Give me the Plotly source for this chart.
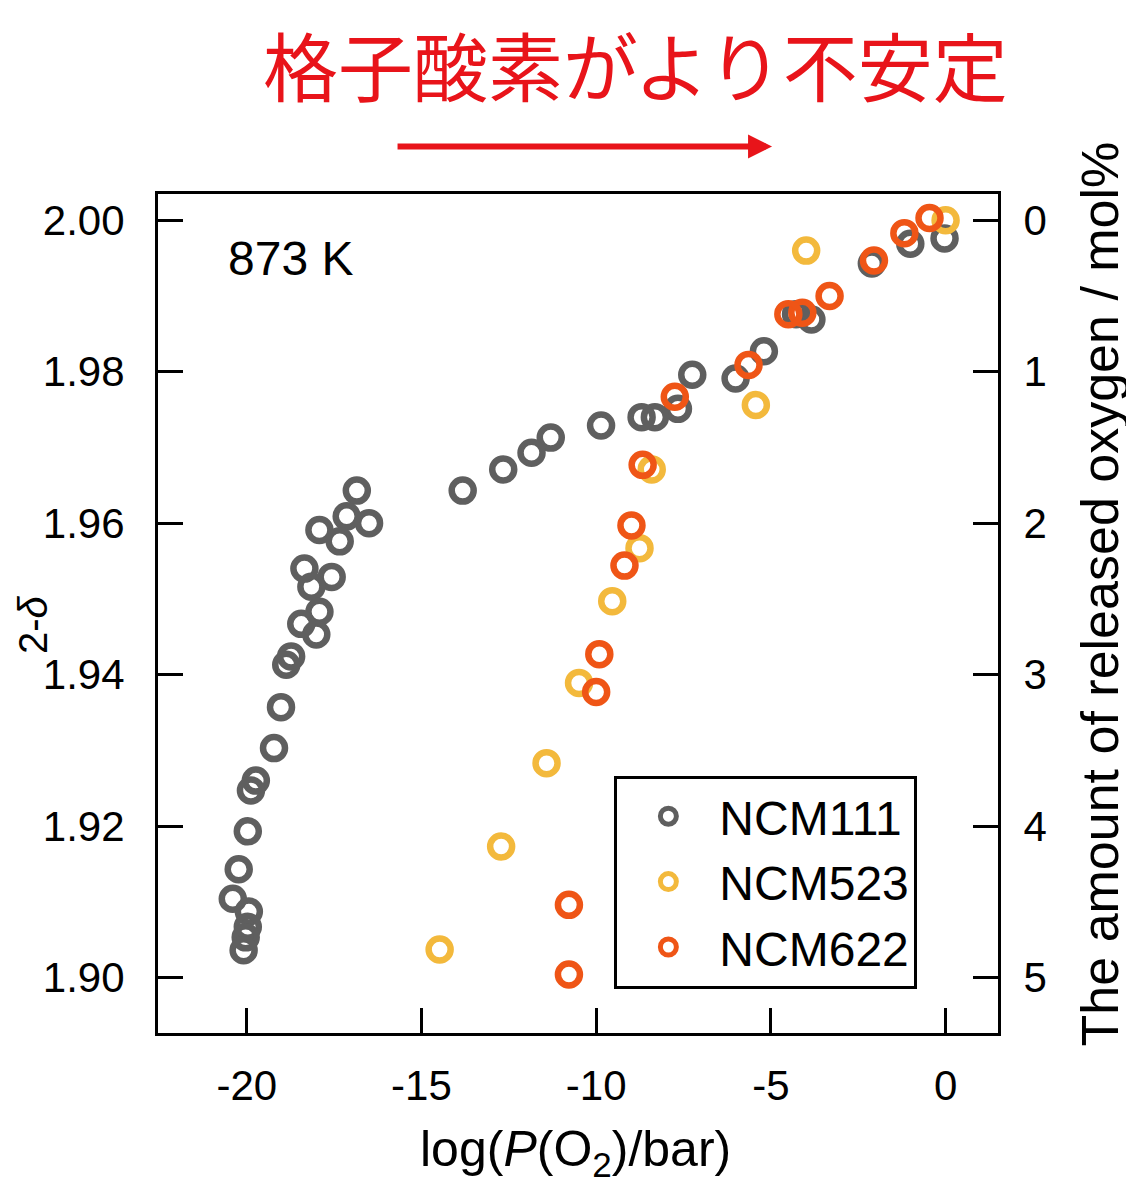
import plotly.graph_objects as go

# ---------------- data ----------------
ncm111_x = [-0.03, -1.01, -2.11, -3.84, -4.28, -5.20, -6.01, -7.25, -7.66, -8.32,
            -8.70, -9.86, -11.30, -11.85, -12.66, -13.82, -16.85, -16.50, -17.14, -17.92,
            -17.34, -17.57, -18.35, -18.15, -17.92, -18.01, -18.44, -18.73, -18.87, -19.02,
            -19.22, -19.74, -19.88, -19.97, -20.23, -20.40, -19.94, -19.97, -20.03, -20.09]
ncm111_y = [1.9976, 1.9969, 1.9943, 1.9869, 1.9876, 1.9827, 1.9791, 1.9796, 1.9751, 1.9740,
            1.9740, 1.9729, 1.9713, 1.9693, 1.9671, 1.9643, 1.9643, 1.9600, 1.9609, 1.9591,
            1.9576, 1.9529, 1.9540, 1.9516, 1.9483, 1.9453, 1.9467, 1.9424, 1.9413, 1.9357,
            1.9303, 1.9260, 1.9247, 1.9193, 1.9143, 1.9104, 1.9087, 1.9067, 1.9053, 1.9036]

ncm523_x = [0.00, -3.99, -5.43, -8.41, -8.76, -9.54, -10.49, -11.42, -12.72, -14.48]
ncm523_y = [2.0000, 1.9960, 1.9756, 1.9671, 1.9567, 1.9497, 1.9389, 1.9283, 1.9173, 1.9037]

ncm622_x = [-0.46, -1.18, -2.05, -3.32, -4.10, -4.50, -5.64, -7.75, -8.67, -8.99,
            -9.19, -9.91, -10.00, -10.78, -10.78]
ncm622_y = [2.0003, 1.9983, 1.9947, 1.9900, 1.9878, 1.9876, 1.9809, 1.9767, 1.9677, 1.9597,
            1.9544, 1.9427, 1.9377, 1.9096, 1.9004]

series_names = ["NCM111", "NCM523", "NCM622"]
series_colors = ["#5f5f5f", "#f3b93c", "#ef5516"]

x_ticks = [-20, -15, -10, -5, 0]
x_tick_labels = ["-20", "-15", "-10", "-5", "0"]
y_ticks = [1.90, 1.92, 1.94, 1.96, 1.98, 2.00]
y_tick_labels = ["1.90", "1.92", "1.94", "1.96", "1.98", "2.00"]
y2_ticks = [0, 1, 2, 3, 4, 5]
y2_tick_labels = ["0", "1", "2", "3", "4", "5"]

# ---------------- figure ----------------
FONT = "Liberation Sans, Arial, sans-serif"
fig = go.Figure()

for name, xs, ys, col in zip(series_names, [ncm111_x, ncm523_x, ncm622_x],
                             [ncm111_y, ncm523_y, ncm622_y], series_colors):
    fig.add_trace(go.Scatter(
        x=xs, y=ys, mode="markers", name=name,
        marker=dict(symbol="circle-open", size=22, color=col,
                    line=dict(width=6.5, color=col)),
    ))

# invisible trace to activate the right-hand axis
fig.add_trace(go.Scatter(x=[0], y=[0], yaxis="y2", mode="markers",
                         marker=dict(opacity=0), showlegend=False, hoverinfo="skip"))

axis_common = dict(showline=True, linecolor="black", linewidth=3,
                   ticks="inside", ticklen=25, tickwidth=3, tickcolor="black",
                   showgrid=False, zeroline=False,
                   tickfont=dict(family=FONT, size=42, color="black"))

fig.update_layout(
    width=1126, height=1180,
    margin=dict(l=150, r=136, t=186, b=155),
    paper_bgcolor="white", plot_bgcolor="white",
    font=dict(family=FONT, color="black"),
    xaxis=dict(range=[-22.54, 1.50], tickvals=x_ticks, ticktext=x_tick_labels,
               mirror=True, ticklabelstandoff=14, **axis_common),
    yaxis=dict(range=[1.89267, 2.00347], tickvals=y_ticks, ticktext=y_tick_labels,
               ticklabelstandoff=22, **axis_common),
    yaxis2=dict(range=[5.3667, -0.1733], tickvals=y2_ticks, ticktext=y2_tick_labels,
                overlaying="y", side="right", ticklabelstandoff=14, **axis_common),
    legend=dict(x=0.5433, y=0.3069, xanchor="left", yanchor="top",
                bgcolor="white", bordercolor="black", borderwidth=3,
                font=dict(family=FONT, size=48, color="black"),
                itemwidth=92, tracegroupgap=0),
    showlegend=True,
)

annotations = [
    dict(text="格子酸素がより不安定", x=0.5685, y=1.156, xref="paper", yref="paper",
         showarrow=False, xanchor="center", yanchor="middle",
         font=dict(family="Noto Sans CJK JP", size=75, color="#e8141a")),
    dict(text="", x=0.731, y=1.0566, xref="paper", yref="paper",
         ax=-376, ay=0, axref="pixel", ayref="pixel", showarrow=True,
         arrowhead=2, arrowsize=0.8, arrowwidth=6, arrowcolor="#e8141a"),
    dict(text="873 K", x=0.0805, y=0.923, xref="paper", yref="paper",
         showarrow=False, xanchor="left", yanchor="middle",
         font=dict(family=FONT, size=48, color="black")),
    dict(text="2-<i>δ</i>", x=-0.148, y=0.487, xref="paper", yref="paper",
         showarrow=False, textangle=-90, xanchor="center", yanchor="middle",
         font=dict(family=FONT, size=40, color="black")),
    dict(text="The amount of released oxygen / mol%", x=1.121, y=0.5235,
         xref="paper", yref="paper", showarrow=False, textangle=-90,
         xanchor="center", yanchor="middle",
         font=dict(family=FONT, size=52, color="black")),
    dict(text="log(<i>P</i>(O<sub>2</sub>)/bar)", x=0.4976, y=-0.142,
         xref="paper", yref="paper", showarrow=False,
         xanchor="center", yanchor="middle",
         font=dict(family=FONT, size=50, color="black")),
]
fig.update_layout(annotations=annotations)

fig.write_html("out.html")
